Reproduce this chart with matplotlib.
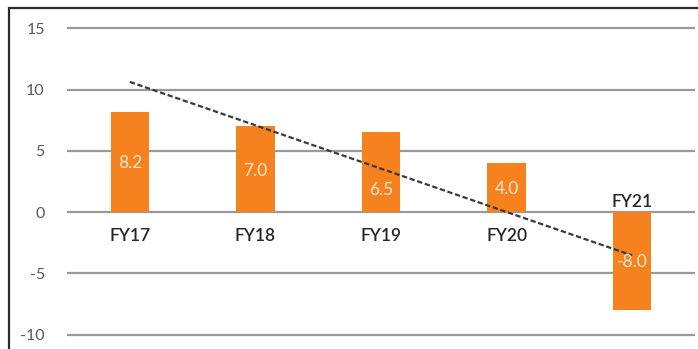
import matplotlib
matplotlib.use("Agg")
import matplotlib.pyplot as plt
from matplotlib.patches import Rectangle
import numpy as np

categories = ["FY17", "FY18", "FY19", "FY20", "FY21"]
values = [8.2, 7.0, 6.5, 4.0, -8.0]
value_labels = ["8.2", "7.0", "6.5", "4.0", "-8.0"]
label_y = [4.0, 3.35, 1.8, 1.9, -4.1]
yticks = [-10, -5, 0, 5, 10, 15]

plt.rcParams['font.family'] = ['Lato', 'DejaVu Sans']

W, H = 698, 349
fig = plt.figure(figsize=(W / 100, H / 100), dpi=100)
fig.patch.set_facecolor('white')

# axes placement in pixels
x0, x1 = 67, 695
ylo, yhi = -11, 15.5
zero_px, unit_px = 212, 12.25
top_px = zero_px - unit_px * yhi
bot_px = zero_px - unit_px * ylo
ax = fig.add_axes([x0 / W, (H - bot_px) / H, (x1 - x0) / W, (bot_px - top_px) / H])
ax.set_xlim(-0.5, len(categories) - 0.5)
ax.set_ylim(ylo, yhi)

for s in ax.spines.values():
    s.set_visible(False)
ax.set_xticks([])
ax.set_yticks(yticks)
ax.set_yticklabels([str(t) for t in yticks])
ax.tick_params(axis='y', length=0, pad=16, labelsize=11.5, labelcolor='#595959')
ax.yaxis.grid(True, color='#9a9a9a', linewidth=1.6)
ax.set_axisbelow(True)

x = np.arange(len(categories))
ax.bar(x, values, width=0.305, color='#F5821F', zorder=2)

for i, (lab, ly) in enumerate(zip(value_labels, label_y)):
    ax.text(i, ly, lab, ha='center', va='center', color='#fde6d2', fontsize=12.5, zorder=4)

for i, (c, v) in enumerate(zip(categories, values)):
    dy = -24 if v >= 0 else 10
    ax.annotate(c, (i, 0), xytext=(0, dy * 0.72), textcoords='offset points',
                ha='center', va='center', fontsize=12.5, color='#262626', fontweight='semibold')

coef = np.polyfit(x, values, 1)
ax.plot(x, np.polyval(coef, x), color='#3a3a3a', linestyle=(0, (2.4, 1.2)), linewidth=1.6, zorder=3)

fig.patches.append(Rectangle((9 / W, -0.2), 1.2, (H - 8) / H + 0.2, transform=fig.transFigure,
                             fill=False, edgecolor='#2b2b2b', linewidth=1.6, zorder=10))

fig.savefig('out.png', dpi=100, facecolor='white')
